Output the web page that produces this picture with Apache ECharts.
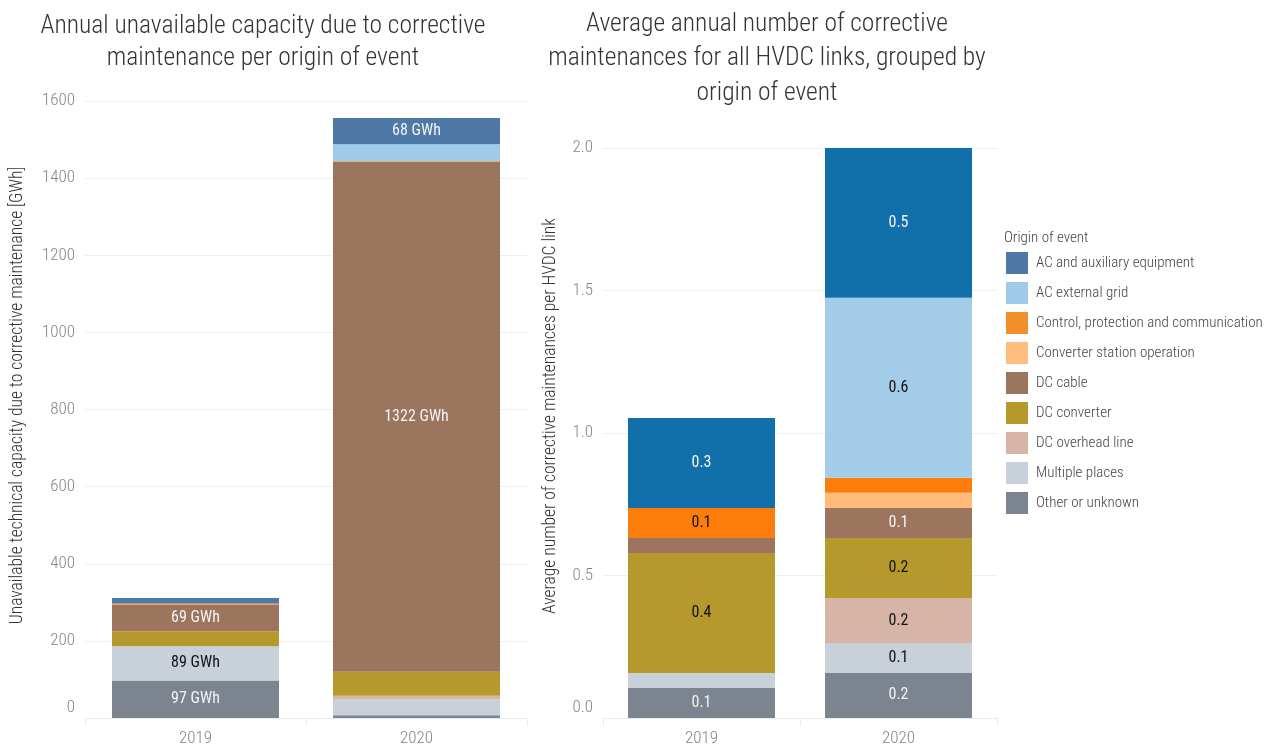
<!DOCTYPE html>
<html>
<head>
<meta charset="utf-8">
<script src="https://cdn.jsdelivr.net/npm/echarts@6/dist/echarts.min.js"></script>
<style>
html,body{margin:0;padding:0;background:#fff;}
#chart{width:1277px;height:747px;}
</style>
</head>
<body>
<div id="chart"></div>
<script>
const categories = ['2019', '2020'];
const origins = [
  'AC and auxiliary equipment',
  'AC external grid',
  'Control, protection and communication',
  'Converter station operation',
  'DC cable',
  'DC converter',
  'DC overhead line',
  'Multiple places',
  'Other or unknown'
];
// Left chart: unavailable capacity [GWh]
const gwhAcAux      = [14, 68];
const gwhAcGrid     = [0, 44];
const gwhControl    = [3, 2];
const gwhConvOp     = [0, 0];
const gwhDcCable    = [69, 1322];
const gwhDcConv     = [39, 62];
const gwhDcOverhead = [0, 10];
const gwhMultiple   = [89, 41];
const gwhOther      = [97, 7];
// Right chart: average number of corrective maintenances per HVDC link
const nAcAux      = [0.316, 0.526];
const nAcGrid     = [0, 0.632];
const nControl    = [0.105, 0.053];
const nConvOp     = [0, 0.053];
const nDcCable    = [0.053, 0.105];
const nDcConv     = [0.421, 0.211];
const nDcOverhead = [0, 0.158];
const nMultiple   = [0.053, 0.105];
const nOther      = [0.105, 0.158];
const leftTicks = [0, 200, 400, 600, 800, 1000, 1200, 1400, 1600];
const rightTicks = [0, 0.5, 1.0, 1.5, 2.0];

const FONT = '"Roboto Condensed", "Roboto", sans-serif';
const leftColors = {
  'AC and auxiliary equipment': '#4E79A7',
  'AC external grid': '#A0CBE8',
  'Control, protection and communication': '#F28E2B',
  'Converter station operation': '#FFBE7D',
  'DC cable': '#9C755F',
  'DC converter': '#B6992D',
  'DC overhead line': '#D7B5A6',
  'Multiple places': '#C8D0D9',
  'Other or unknown': '#7B848F'
};
const rightColors = Object.assign({}, leftColors, {
  'AC and auxiliary equipment': '#1170AA',
  'AC external grid': '#A3CCE9',
  'Control, protection and communication': '#FC7D0B',
  'Converter station operation': '#FFBC79'
});
const whiteText = {'AC and auxiliary equipment': 1, 'DC cable': 1, 'Other or unknown': 1};

const leftData = {
  'AC and auxiliary equipment': gwhAcAux,
  'AC external grid': gwhAcGrid,
  'Control, protection and communication': gwhControl,
  'Converter station operation': gwhConvOp,
  'DC cable': gwhDcCable,
  'DC converter': gwhDcConv,
  'DC overhead line': gwhDcOverhead,
  'Multiple places': gwhMultiple,
  'Other or unknown': gwhOther
};
const rightData = {
  'AC and auxiliary equipment': nAcAux,
  'AC external grid': nAcGrid,
  'Control, protection and communication': nControl,
  'Converter station operation': nConvOp,
  'DC cable': nDcCable,
  'DC converter': nDcConv,
  'DC overhead line': nDcOverhead,
  'Multiple places': nMultiple,
  'Other or unknown': nOther
};

const stackOrder = origins.slice().reverse();
const series = [];
stackOrder.forEach(name => {
  series.push({
    name: name, type: 'bar', stack: 'left', xAxisIndex: 0, yAxisIndex: 0,
    barWidth: 167, data: leftData[name],
    itemStyle: {color: leftColors[name]},
    label: {
      show: true, position: 'inside', fontFamily: FONT, fontSize: 16,
      color: whiteText[name] ? '#F4F4F4' : '#111',
      formatter: p => p.value >= 65 ? Math.round(p.value) + ' GWh' : ''
    }
  });
});
stackOrder.forEach(name => {
  series.push({
    name: name, type: 'bar', stack: 'right', xAxisIndex: 1, yAxisIndex: 1,
    barWidth: 147, data: rightData[name],
    itemStyle: {color: rightColors[name]},
    label: {
      show: true, position: 'inside', fontFamily: FONT, fontSize: 16,
      color: whiteText[name] ? '#F4F4F4' : '#111',
      formatter: p => p.value >= 0.1 ? p.value.toFixed(1) : ''
    }
  });
});

const axisLabelStyle = {color: '#858585', fontFamily: FONT, fontSize: 17, fontWeight: 300};
const zeroRich = {z: {color: '#858585', fontFamily: FONT, fontSize: 17, fontWeight: 300, padding: [0, 0, 20, 0]}};
const option = {
  backgroundColor: '#fff',
  animation: false,
  title: [
    {text: 'Annual unavailable capacity due to corrective\nmaintenance per origin of event',
     left: 258, top: 6, textAlign: 'center',
     textStyle: {fontFamily: FONT, fontSize: 25.5, fontWeight: 300, color: '#333', lineHeight: 32}},
    {text: 'Average annual number of corrective\nmaintenances for all HVDC links, grouped by\norigin of event',
     left: 762, top: 2, textAlign: 'center',
     textStyle: {fontFamily: FONT, fontSize: 25.5, fontWeight: 300, color: '#333', lineHeight: 34.5}}
  ],
  legend: {
    data: origins, orient: 'vertical', left: 1001, top: 247,
    itemWidth: 22, itemHeight: 22, itemGap: 8, icon: 'rect',
    textStyle: {fontFamily: FONT, fontSize: 15, fontWeight: 300, color: '#444', padding: [0, 0, 0, 3]}
  },
  graphic: [{
    type: 'text', left: 1004, top: 231,
    style: {text: 'Origin of event', fontFamily: FONT, fontSize: 15, fontWeight: 300, fill: '#444'}
  }],
  grid: [
    {left: 85, width: 442, top: 101, height: 618},
    {left: 603, width: 394, top: 148, height: 571}
  ],
  xAxis: [
    {type: 'category', gridIndex: 0, data: categories,
     axisLine: {lineStyle: {color: '#EBEBEB'}},
     axisTick: {show: true, length: 8, lineStyle: {color: '#EBEBEB'}},
     axisLabel: Object.assign({margin: 12}, axisLabelStyle)},
    {type: 'category', gridIndex: 1, data: categories,
     axisLine: {lineStyle: {color: '#EBEBEB'}},
     axisTick: {show: true, length: 8, lineStyle: {color: '#EBEBEB'}},
     axisLabel: Object.assign({margin: 12}, axisLabelStyle)}
  ],
  yAxis: [
    {type: 'value', gridIndex: 0, min: leftTicks[0], max: leftTicks[leftTicks.length - 1], interval: 200,
     name: 'Unavailable technical capacity due to corrective maintenance [GWh]',
     nameLocation: 'middle', nameGap: 58,
     nameTextStyle: {fontFamily: FONT, fontSize: 17.5, fontWeight: 300, color: '#333', padding: [0, 0, 0, 28]},
     axisLine: {show: false}, axisTick: {show: false},
     splitLine: {lineStyle: {color: '#EFEFEF'}},
     axisLabel: Object.assign({margin: 10, rich: zeroRich,
       formatter: v => v === 0 ? '{z|0}' : String(v)}, axisLabelStyle)},
    {type: 'value', gridIndex: 1, min: rightTicks[0], max: rightTicks[rightTicks.length - 1], interval: 0.5,
     name: 'Average number of corrective maintenances per HVDC link',
     nameLocation: 'middle', nameGap: 43,
     nameTextStyle: {fontFamily: FONT, fontSize: 17.5, fontWeight: 300, color: '#333', padding: [0, 0, 0, 34]},
     axisLine: {show: false}, axisTick: {show: false},
     splitLine: {lineStyle: {color: '#EFEFEF'}},
     axisLabel: Object.assign({margin: 10, rich: zeroRich,
       formatter: v => v === 0 ? '{z|0.0}' : v.toFixed(1)}, axisLabelStyle)}
  ],
  series: series
};
const chart = echarts.init(document.getElementById('chart'), null, {renderer: 'canvas'});
chart.setOption(option);
</script>
</body>
</html>
